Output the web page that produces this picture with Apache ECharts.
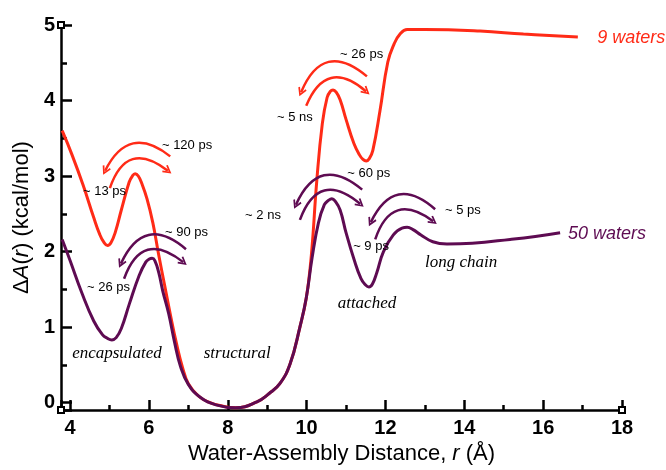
<!DOCTYPE html>
<html>
<head>
<meta charset="utf-8">
<script src="https://cdn.jsdelivr.net/npm/echarts@6/dist/echarts.min.js"></script>
<style>
html, body { margin: 0; padding: 0; background: #fff; }
#main { width: 666px; height: 470px; }
</style>
</head>
<body>
<div id="main"></div>
<script>
// 9 waters curve: r (Å), ΔA (kcal/mol)
var r9 = [3.80, 4.05, 4.33, 4.60, 4.75, 4.86, 4.95, 5.04, 5.15, 5.30, 5.50, 5.58, 5.65, 5.73, 5.82, 5.95, 6.10, 6.25, 6.40, 6.55,
          6.70, 6.85, 7.00, 7.25, 7.50, 7.80, 8.20, 8.74, 9.05, 9.32, 9.58, 9.83, 9.99, 10.12, 10.26, 10.40, 10.52, 10.60, 10.67, 10.75,
          10.85, 11.00, 11.20, 11.34, 11.43, 11.51, 11.59, 11.68, 11.86, 12.06, 12.22, 12.37, 12.55, 13.00, 14.40, 15.50, 16.88];
var a9 = [3.60, 3.28, 2.88, 2.45, 2.23, 2.12, 2.08, 2.12, 2.26, 2.55, 2.92, 3.00, 3.03, 3.00, 2.90, 2.70, 2.38, 1.95, 1.55, 1.15,
          0.78, 0.47, 0.25, 0.09, 0.01, -0.04, -0.07, 0.01, 0.12, 0.25, 0.51, 1.00, 1.38, 1.95, 2.95, 3.70, 4.04, 4.12, 4.14, 4.11,
          4.01, 3.75, 3.43, 3.28, 3.22, 3.20, 3.23, 3.34, 3.86, 4.51, 4.75, 4.88, 4.94, 4.94, 4.92, 4.88, 4.84];

// 50 waters curve
var r50 = [3.80, 4.00, 4.30, 4.60, 4.82, 4.95, 5.06, 5.17, 5.30, 5.50, 5.75, 5.92, 6.01, 6.08, 6.15, 6.25, 6.35, 6.50, 6.65, 6.80,
           7.00, 7.30, 7.70, 8.20, 8.74, 9.05, 9.32, 9.58, 9.83, 9.99, 10.14, 10.30, 10.45, 10.56, 10.64, 10.72, 10.85, 11.00, 11.20, 11.38,
           11.49, 11.58, 11.67, 11.78, 11.95, 12.20, 12.42, 12.55, 12.70, 12.90, 13.20, 13.56, 14.20, 15.16, 15.80, 16.43];
var a50 = [2.16, 1.88, 1.45, 1.08, 0.90, 0.85, 0.83, 0.86, 0.98, 1.30, 1.68, 1.86, 1.90, 1.91, 1.88, 1.72, 1.48, 1.18, 0.80, 0.48,
           0.24, 0.07, -0.03, -0.07, 0.01, 0.12, 0.25, 0.51, 1.00, 1.38, 1.92, 2.38, 2.62, 2.68, 2.70, 2.67, 2.55, 2.25, 1.90, 1.64,
           1.56, 1.53, 1.57, 1.72, 2.00, 2.22, 2.31, 2.32, 2.29, 2.22, 2.13, 2.10, 2.11, 2.16, 2.20, 2.25];

// transition time tags
var tagText = ['~ 120 ps', '~ 13 ps', '~ 90 ps', '~ 26 ps', '~ 26 ps', '~ 5 ns', '~ 60 ps', '~ 2 ns', '~ 9 ps', '~ 5 ps'];
var tagR = [6.33, 4.33, 6.41, 4.43, 10.85, 9.25, 11.03, 8.44, 11.18, 13.51];
var tagA = [3.40, 2.79, 2.25, 1.52, 4.61, 3.78, 3.04, 2.48, 2.07, 2.54];

// state names
var stateText = ['encapsulated', 'structural', 'attached', 'long chain'];
var stateR = [5.19, 8.24, 11.53, 13.92];
var stateA = [0.645, 0.645, 1.31, 1.85];

var RED = '#ff2b17';
var PURPLE = '#5e0b52';

// curved arrows: r1, a1, r2, a2, curveness, colour
var arrows = [
    [6.54, 3.26, 4.89, 3.07, -0.62, RED],
    [5.01, 2.84, 6.48, 3.07, 0.70, RED],
    [6.94, 2.03, 5.29, 1.84, -0.66, PURPLE],
    [5.37, 1.64, 6.87, 1.86, 0.70, PURPLE],
    [11.53, 4.32, 9.86, 4.11, -0.68, RED],
    [9.99, 3.93, 11.51, 4.12, 0.69, RED],
    [11.41, 2.82, 9.73, 2.62, -0.66, PURPLE],
    [9.83, 2.42, 11.36, 2.63, 0.71, PURPLE],
    [13.26, 2.56, 11.63, 2.39, -0.66, PURPLE],
    [11.74, 2.16, 13.21, 2.40, 0.69, PURPLE]
];

function zip(xs, ys) {
    return xs.map(function (x, i) { return [x, ys[i]]; });
}

var chartDom = document.getElementById('main');
var myChart = echarts.init(chartDom);
var FONT = 'Liberation Sans';
var chevron = 'path://M5,0 L10,8 L8.4,9 L5,3.4 L1.6,9 L0,8 Z';

var option = {
    animation: false,
    grid: { left: 61, right: 44, top: 25, bottom: 55 },
    xAxis: {
        type: 'value',
        min: 3.77,
        max: 18,
        splitNumber: 7,
        splitLine: { show: false },
        axisLine: {
            onZero: false,
            lineStyle: { color: '#000', width: 2.5 },
            symbol: ['emptyRect', 'emptyRect'],
            symbolSize: [6, 6]
        },
        axisTick: { inside: true, length: 10, lineStyle: { color: '#000', width: 2.5 } },
        minorTick: { show: true, splitNumber: 2, length: 5, lineStyle: { color: '#000', width: 2.5 } },
        axisLabel: {
            margin: 8,
            color: '#000',
            fontSize: 20,
            fontWeight: 'bold',
            fontFamily: FONT,
            formatter: function (v) {
                var n = Math.round(v);
                return (Math.abs(v - n) < 1e-6 && n % 2 === 0) ? n : '';
            }
        },
        name: 'Water-Assembly Distance, {i|r} (Å)',
        nameLocation: 'middle',
        nameGap: 32,
        nameTextStyle: {
            color: '#000', fontSize: 22, fontFamily: FONT,
            rich: { i: { fontStyle: 'italic', fontSize: 22, fontFamily: FONT, color: '#000' } }
        }
    },
    yAxis: {
        type: 'value',
        min: -0.1,
        max: 5,
        splitNumber: 5,
        splitLine: { show: false },
        axisLine: {
            lineStyle: { color: '#000', width: 2.5 },
            symbol: ['none', 'emptyRect'],
            symbolSize: [6, 6]
        },
        axisTick: { inside: true, length: 11, lineStyle: { color: '#000', width: 2.5 } },
        minorTick: { show: true, splitNumber: 2, length: 6, lineStyle: { color: '#000', width: 2.5 } },
        axisLabel: {
            margin: 6,
            color: '#000',
            fontSize: 20,
            fontWeight: 'bold',
            fontFamily: FONT,
            formatter: function (v) {
                var n = Math.round(v);
                return (v >= 0 && Math.abs(v - n) < 1e-6) ? n : '';
            }
        },
        name: 'Δ{i|A}({i|r}) (kcal/mol)',
        nameLocation: 'middle',
        nameGap: 19,
        nameTextStyle: {
            color: '#000', fontSize: 22, fontFamily: FONT,
            rich: { i: { fontStyle: 'italic', fontSize: 22, fontFamily: FONT, color: '#000' } }
        }
    },
    series: [
        {
            name: '9 waters',
            type: 'line',
            data: zip(r9, a9),
            smooth: 0.45,
            showSymbol: false,
            lineStyle: { color: RED, width: 3 },
            itemStyle: { color: RED },
            z: 3
        },
        {
            name: '50 waters',
            type: 'line',
            data: zip(r50, a50),
            smooth: 0.45,
            showSymbol: false,
            lineStyle: { color: PURPLE, width: 3 },
            itemStyle: { color: PURPLE },
            z: 4
        },
        {
            type: 'lines',
            coordinateSystem: 'cartesian2d',
            symbol: ['none', chevron],
            symbolSize: [10, 9],
            silent: true,
            z: 5,
            data: arrows.map(function (a) {
                return {
                    coords: [[a[0], a[1]], [a[2], a[3]]],
                    lineStyle: { color: a[5], width: 2.5, curveness: a[4], opacity: 1 },
                    itemStyle: { color: a[5] }
                };
            })
        },
        {
            type: 'scatter',
            symbolSize: 0,
            silent: true,
            z: 6,
            itemStyle: { opacity: 1 },
            data: tagText.map(function (t, i) { return [tagR[i], tagA[i], t]; }),
            label: {
                show: true,
                position: 'right',
                distance: 0,
                color: '#000',
                fontSize: 13,
                fontFamily: FONT,
                formatter: function (p) { return p.value[2]; }
            }
        },
        {
            type: 'scatter',
            symbolSize: 0,
            silent: true,
            z: 6,
            itemStyle: { opacity: 1 },
            data: stateText.map(function (t, i) { return [stateR[i], stateA[i], t]; }),
            label: {
                show: true,
                position: 'inside',
                color: '#000',
                fontSize: 17,
                fontStyle: 'italic',
                fontFamily: 'Liberation Serif',
                formatter: function (p) { return p.value[2]; }
            }
        },
        {
            type: 'scatter',
            symbolSize: 0,
            silent: true,
            z: 6,
            itemStyle: { opacity: 1 },
            data: [
                { value: [17.37, 4.83, '9 waters'], label: { color: RED } },
                { value: [16.63, 2.23, '50 waters'], label: { color: PURPLE } }
            ],
            label: {
                show: true,
                position: 'right',
                distance: 0,
                fontSize: 18,
                fontStyle: 'italic',
                fontFamily: FONT,
                formatter: function (p) { return p.value[2]; }
            }
        }
    ]
};

option && myChart.setOption(option);
</script>
</body>
</html>
